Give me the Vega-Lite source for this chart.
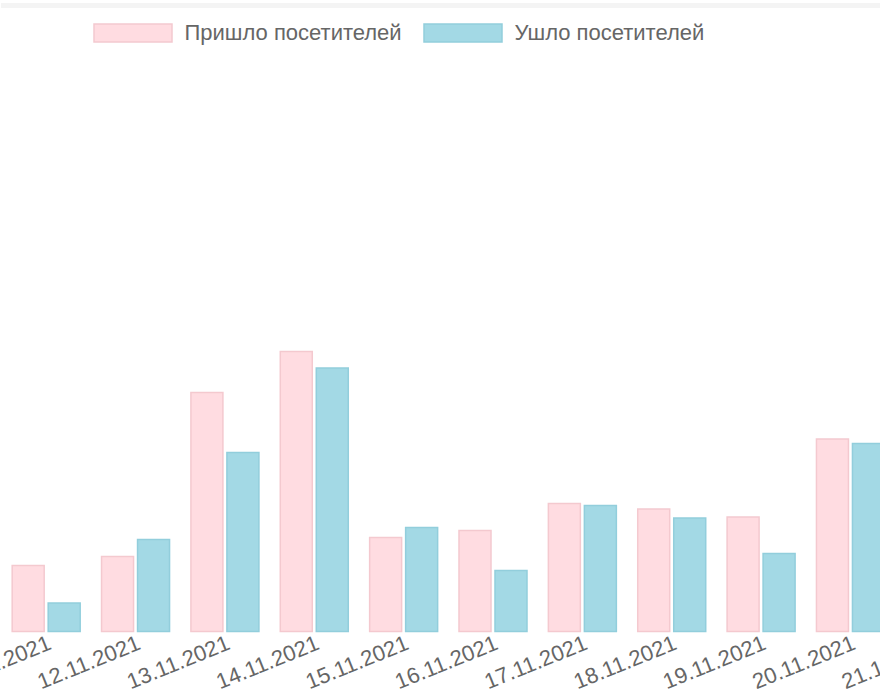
{
  "$schema": "https://vega.github.io/schema/vega-lite/v6.json",
  "autosize": {"type": "none"},
  "padding": {"left": 1.5, "top": 7, "right": 0, "bottom": 66},
  "width": 983,
  "height": 624.5,
  "background": "white",
  "config": {
    "view": {"stroke": null},
    "font": "Liberation Sans"
  },
  "data": {
    "values": [
      {"date": "11.11.2021", "series": "Пришло посетителей", "value": 66},
      {"date": "11.11.2021", "series": "Ушло посетителей", "value": 28.5},
      {"date": "12.11.2021", "series": "Пришло посетителей", "value": 75},
      {"date": "12.11.2021", "series": "Ушло посетителей", "value": 92},
      {"date": "13.11.2021", "series": "Пришло посетителей", "value": 239},
      {"date": "13.11.2021", "series": "Ушло посетителей", "value": 179},
      {"date": "14.11.2021", "series": "Пришло посетителей", "value": 280},
      {"date": "14.11.2021", "series": "Ушло посетителей", "value": 263.5},
      {"date": "15.11.2021", "series": "Пришло посетителей", "value": 94},
      {"date": "15.11.2021", "series": "Ушло посетителей", "value": 104},
      {"date": "16.11.2021", "series": "Пришло посетителей", "value": 101},
      {"date": "16.11.2021", "series": "Ушло посетителей", "value": 61},
      {"date": "17.11.2021", "series": "Пришло посетителей", "value": 128},
      {"date": "17.11.2021", "series": "Ушло посетителей", "value": 126},
      {"date": "18.11.2021", "series": "Пришло посетителей", "value": 122.5},
      {"date": "18.11.2021", "series": "Ушло посетителей", "value": 113.5},
      {"date": "19.11.2021", "series": "Пришло посетителей", "value": 114.5},
      {"date": "19.11.2021", "series": "Ушло посетителей", "value": 78},
      {"date": "20.11.2021", "series": "Пришло посетителей", "value": 192.5},
      {"date": "20.11.2021", "series": "Ушло посетителей", "value": 188},
      {"date": "21.11.2021", "series": "Пришло посетителей", "value": 150},
      {"date": "21.11.2021", "series": "Ушло посетителей", "value": 140}
    ]
  },
  "layer": [
    {
      "mark": {"type": "rule", "color": "#f4f4f4", "strokeWidth": 4, "clip": false},
      "encoding": {
        "y": {"datum": 626, "type": "quantitative", "scale": {"domain": [0, 624.5], "nice": false, "zero": true}, "axis": null}
      }
    },
    {
      "mark": {"type": "bar", "strokeWidth": 1.5},
      "encoding": {
        "x": {
          "field": "date",
          "type": "nominal",
          "sort": null,
          "scale": {"paddingInner": 0.239, "paddingOuter": 0.1195},
          "axis": {
            "title": null,
            "domain": false,
            "ticks": false,
            "grid": false,
            "labelAngle": -22,
            "labelAlign": "right",
            "labelBaseline": "top",
            "labelFontSize": 22,
            "labelColor": "#666666",
            "labelFont": "Liberation Sans",
            "labelPadding": 1,
            "labelDx": -3,
            "labelOverlap": false,
            "labelBound": false,
            "labelFlush": false
          }
        },
        "xOffset": {
          "field": "series",
          "type": "nominal",
          "sort": ["Пришло посетителей", "Ушло посетителей"],
          "scale": {"paddingInner": 0.111, "paddingOuter": 0}
        },
        "y": {
          "field": "value",
          "type": "quantitative",
          "scale": {"domain": [0, 624.5], "nice": false},
          "axis": null
        },
        "color": {
          "field": "series",
          "type": "nominal",
          "sort": ["Пришло посетителей", "Ушло посетителей"],
          "scale": {"range": ["#FFDCE1", "#A3D9E5"]},
          "legend": {
            "title": null,
            "orient": "none",
            "direction": "horizontal",
            "legendX": 91.5,
            "legendY": 5,
            "padding": 0,
            "symbolType": "M-1,-0.45H2.9V0.45H-1Z",
            "symbolSize": 1600,
            "symbolStrokeWidth": 1.5,
            "symbolOpacity": 1,
            "labelFontSize": 22,
            "labelFont": "Liberation Sans",
            "labelColor": "#666666",
            "labelOffset": 49.5,
            "labelLimit": 400,
            "columnPadding": 19,
            "encode": {
              "symbols": {
                "update": {
                  "fill": {"scale": "color", "field": "value"},
                  "stroke": {"scale": "stroke", "field": "value"}
                }
              }
            }
          }
        },
        "stroke": {
          "field": "series",
          "type": "nominal",
          "sort": ["Пришло посетителей", "Ушло посетителей"],
          "scale": {"range": ["#F4C9CF", "#92CEDC"]},
          "legend": null
        }
      }
    }
  ]
}
